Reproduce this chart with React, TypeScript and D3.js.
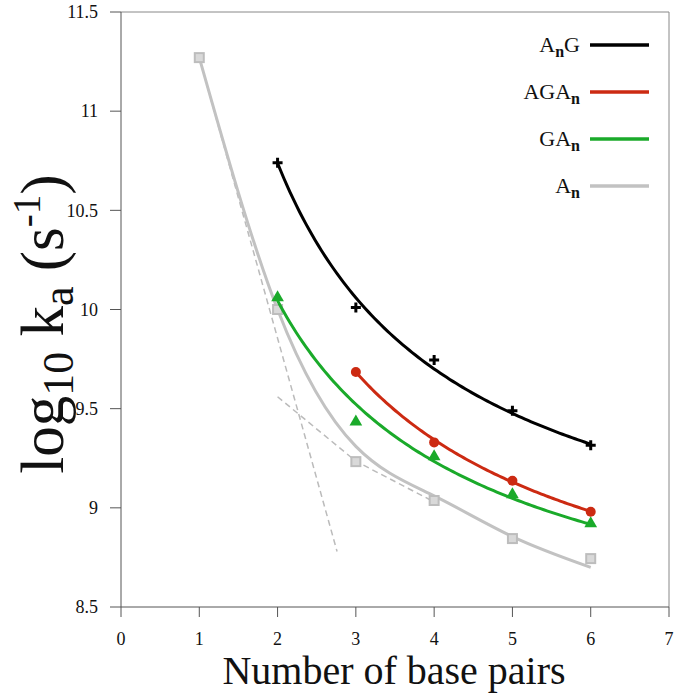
import React from "react";
import * as d3 from "d3";

const seriesNames = ["AnG", "AGAn", "GAn", "An"];
// measured points
const angX = [2, 3, 4, 5, 6];
const angY = [10.74, 10.01, 9.745, 9.49, 9.315];
const agaX = [3, 4, 5, 6];
const agaY = [9.685, 9.33, 9.137, 8.98];
const gaX = [2, 3, 4, 5, 6];
const gaY = [10.06, 9.434, 9.258, 9.067, 8.92];
const anX = [1, 2, 3, 4, 5, 6];
const anY = [11.27, 10.0, 9.233, 9.037, 8.845, 8.744];
// fitted trend curves (values at each x)
const angFit = [10.74, 10.05, 9.71, 9.48, 9.315];
const agaFit = [9.685, 9.34, 9.135, 8.98];
const gaFit = [10.05, 9.5, 9.25, 9.065, 8.9];
const anFit = [11.27, 10.0, 9.31, 9.06, 8.855, 8.7];
// dashed guide lines
const dash1X = [1, 2.76];
const dash1Y = [11.27, 8.78];
const dash2X = [2, 3, 4];
const dash2Y = [9.56, 9.235, 9.03];
const xTicks = [0, 1, 2, 3, 4, 5, 6, 7];
const yTicks = [8.5, 9, 9.5, 10, 10.5, 11, 11.5];

const COLORS = ["#000000", "#cc2a12", "#1aaa2a", "#c2c2c2"];
const SERIF = "Liberation Serif, Times New Roman, DejaVu Serif, serif";

// smooth power-law trend y = a + b * x^-c through the read-off curve nodes
function powerFit(xs: number[], ys: number[]): [number, number][] {
  let best = { a: 0, b: 0, c: 1, sse: Infinity };
  for (let c = 0.05; c <= 4; c += 0.01) {
    const u = xs.map((v) => Math.pow(v, -c));
    const mu = d3.mean(u)!, my = d3.mean(ys)!;
    let sxy = 0, sxx = 0;
    u.forEach((ui, i) => { sxy += (ui - mu) * (ys[i] - my); sxx += (ui - mu) ** 2; });
    const b = sxy / sxx, a = my - b * mu;
    const sse = d3.sum(u.map((ui, i) => (a + b * ui - ys[i]) ** 2));
    if (sse < best.sse) best = { a, b, c, sse };
  }
  const x0 = xs[0], x1 = xs[xs.length - 1];
  return d3.range(101).map((i) => {
    const v = x0 + ((x1 - x0) * i) / 100;
    return [v, best.a + best.b * Math.pow(v, -best.c)] as [number, number];
  });
}

export default function App() {
  const W = 680, H = 693;
  const x = d3.scaleLinear().domain([0, 7]).range([121, 669]);
  const y = d3.scaleLinear().domain([8.5, 11.5]).range([607, 12]);
  const line = d3.line<[number, number]>().x((d) => x(d[0])).y((d) => y(d[1]));
  const natural = d3.line<[number, number]>().x((d) => x(d[0])).y((d) => y(d[1])).curve(d3.curveNatural);

  const series = [
    { xs: anX, ys: anY, fit: anFit, color: COLORS[3], marker: "square", kind: "natural" },
    { xs: gaX, ys: gaY, fit: gaFit, color: COLORS[2], marker: "triangle", kind: "power" },
    { xs: agaX, ys: agaY, fit: agaFit, color: COLORS[1], marker: "circle", kind: "power" },
    { xs: angX, ys: angY, fit: angFit, color: COLORS[0], marker: "plus", kind: "power" },
  ];
  const tri = d3.symbol(d3.symbolTriangle, 70)()!;

  const marker = (m: string, cx: number, cy: number, color: string, k: number) => {
    if (m === "plus")
      return <path key={k} transform={`translate(${cx},${cy})`} d="M-5,0H5M0,-5V5" stroke={color} strokeWidth={3} fill="none" />;
    if (m === "circle") return <circle key={k} cx={cx} cy={cy} r={5} fill={color} />;
    if (m === "triangle") return <path key={k} transform={`translate(${cx},${cy})`} d={tri} fill={color} />;
    return <rect key={k} x={cx - 4.5} y={cy - 4.5} width={9} height={9} fill="#d9d9d9" stroke="#bdbdbd" strokeWidth={2} />;
  };

  const legendY = [45, 92, 139, 186];
  const ts = { fontFamily: SERIF };

  return (
    <svg width={W} height={H} style={{ position: "absolute", left: 0, top: 0, background: "#fff" }}>
      <line x1={121} x2={669} y1={12} y2={12} stroke="#888" strokeWidth={1} />
      <line x1={669} x2={669} y1={12} y2={607} stroke="#888" strokeWidth={1} />
      <line x1={121} x2={121} y1={12} y2={607} stroke="#555" strokeWidth={1} />
      <line x1={121} x2={669} y1={607} y2={607} stroke="#555" strokeWidth={1} />
      {yTicks.map((t) => (
        <g key={t}>
          <line x1={110} x2={121} y1={y(t)} y2={y(t)} stroke="#555" />
          <text style={ts} x={98} y={y(t)} dy="0.35em" textAnchor="end" fontSize={18} fill="#111">{t}</text>
        </g>
      ))}
      {xTicks.map((t) => (
        <g key={t}>
          <line x1={x(t)} x2={x(t)} y1={607} y2={617} stroke="#555" />
          <text style={ts} x={x(t)} y={645} textAnchor="middle" fontSize={18} fill="#111">{t}</text>
        </g>
      ))}
      <text style={ts} x={394} y={684} textAnchor="middle" fontSize={40} fill="#111">Number of base pairs</text>
      <text style={ts} transform="translate(63,324) rotate(-90)" textAnchor="middle" fontSize={61} fill="#111">
        log<tspan fontSize={44} dy={10}>10</tspan>
        <tspan dy={-10}> k</tspan>
        <tspan fontSize={44} dy={10}>a</tspan>
        <tspan dy={-10}> (s</tspan>
        <tspan fontSize={39} dy={-23}>-1</tspan>
        <tspan dy={23}>)</tspan>
      </text>
      <path d={line(dash1X.map((v, i) => [v, dash1Y[i]]) as [number, number][])!} stroke="#bbb" strokeWidth={1.5} strokeDasharray="6,4" fill="none" />
      <path d={line(dash2X.map((v, i) => [v, dash2Y[i]]) as [number, number][])!} stroke="#bbb" strokeWidth={1.5} strokeDasharray="6,4" fill="none" />
      {series.map((s, si) => {
        const nodes = s.xs.map((v, i) => [v, s.fit[i]]) as [number, number][];
        const d = s.kind === "power" ? line(powerFit(s.xs, s.fit)) : natural(nodes);
        return (
          <g key={si}>
            <path d={d!} stroke={s.color} strokeWidth={3} fill="none" />
            {s.xs.map((v, i) => marker(s.marker, x(v), y(s.ys[i]), s.color, i))}
          </g>
        );
      })}
      {seriesNames.map((name, i) => {
        const tail = name === "AnG" ? "G" : "";
        const head = name === "AnG" ? "A" : name.slice(0, -1);
        return (
          <g key={name}>
            <text style={ts} x={580} y={legendY[i] + 7} textAnchor="end" fontSize={22} fill="#111">
              {head}
              <tspan fontSize={16} fontWeight={700} dy={5}>n</tspan>
              {tail && <tspan dy={-5}>{tail}</tspan>}
            </text>
            <line x1={590} x2={649} y1={legendY[i]} y2={legendY[i]} stroke={COLORS[i]} strokeWidth={3.5} />
          </g>
        );
      })}
    </svg>
  );
}
